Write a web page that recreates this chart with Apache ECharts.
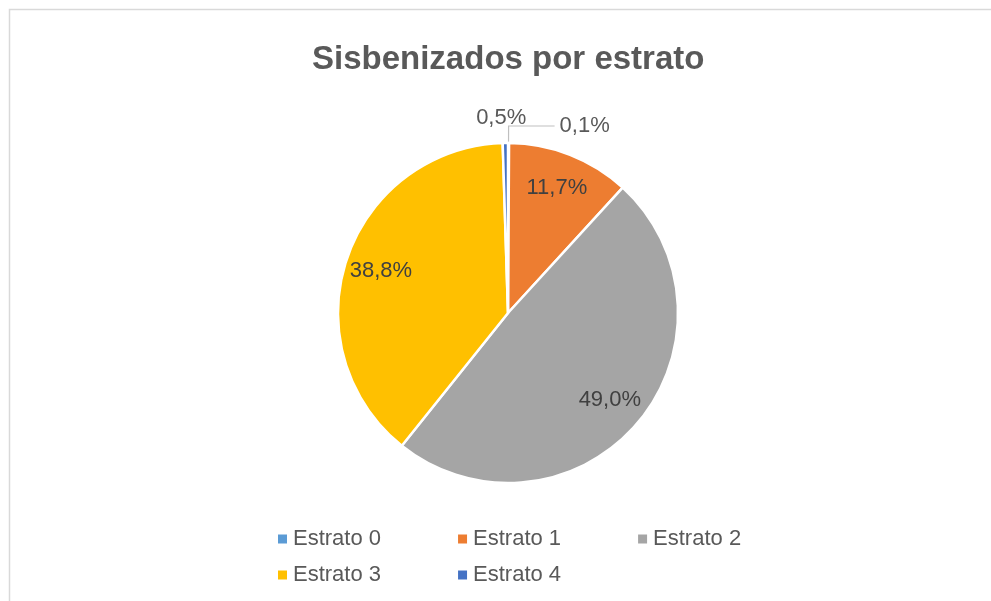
<!DOCTYPE html>
<html><head><meta charset="utf-8">
<script src="https://cdn.jsdelivr.net/npm/echarts@6/dist/echarts.min.js"></script>
<style>html,body{margin:0;padding:0;background:#fff}#c{width:991px;height:601px}</style>
</head><body><div id="c"></div>
<script>
const categories = ['Estrato 0', 'Estrato 1', 'Estrato 2', 'Estrato 3', 'Estrato 4'];
const values = [0.1, 11.7, 49.0, 38.8, 0.5];
const colors = ['#5B9BD5', '#ED7D31', '#A5A5A5', '#FFC000', '#4472C4'];
const titleText = 'Sisbenizados por estrato';

const FONT = 'Liberation Sans, Arial, sans-serif';
const fmt = v => v.toFixed(1).replace('.', ',') + '%';
const outside = [0, 4];

const legendBase = { left: 271, itemGap: 75, icon: 'rect', itemWidth: 11, itemHeight: 11,
  textStyle: { fontFamily: FONT, fontSize: 22, color: '#595959' } };

const chart = echarts.init(document.getElementById('c'));
chart.setOption({
  animation: false,
  title: { text: titleText, left: 307, top: 38,
    textStyle: { fontFamily: FONT, fontSize: 33, fontWeight: 'bold', color: '#595959' } },
  graphic: [{ type: 'rect', shape: { x: 9.5, y: 9.5, width: 1000, height: 620 },
    style: { fill: 'none', stroke: '#d9d9d9', lineWidth: 1.5 }, silent: true }],
  legend: [
    Object.assign({ data: categories.slice(0, 3), top: 523 }, legendBase),
    Object.assign({ data: categories.slice(3), top: 559 }, legendBase)
  ],
  series: [
    {
      type: 'pie', center: [508, 313], radius: 170, startAngle: 90, clockwise: true,
      avoidLabelOverlap: false,
      itemStyle: { borderColor: '#fff', borderWidth: 2.5 },
      data: categories.map((n, i) => ({
        name: n, value: values[i], itemStyle: { color: colors[i] },
        label: outside.includes(i) ? { show: true, position: 'outside' } : { show: false },
        labelLine: i === 0 ? { show: true, length: 17, length2: 46, lineStyle: { color: '#bfbfbf', width: 1.2 } } : { show: false, length: 4, length2: 0 }
      })),
      label: { fontFamily: FONT, fontSize: 22, color: '#595959', formatter: p => fmt(p.value) },
      labelLayout: p => p.dataIndex === 4 ? { dx: 26, dy: -21 } : {}
    },
    {
      type: 'pie', center: [508, 313], radius: [92, 170], startAngle: 90, clockwise: true, silent: true,
      itemStyle: { color: 'rgba(0,0,0,0)', borderWidth: 0 },
      data: categories.map((n, i) => ({
        name: n, value: values[i],
        label: { show: !outside.includes(i) }
      })),
      label: { position: 'inside', fontFamily: FONT, fontSize: 22, color: '#404040', formatter: p => fmt(p.value) },
      labelLine: { show: false }
    }
  ]
});
</script></body></html>
